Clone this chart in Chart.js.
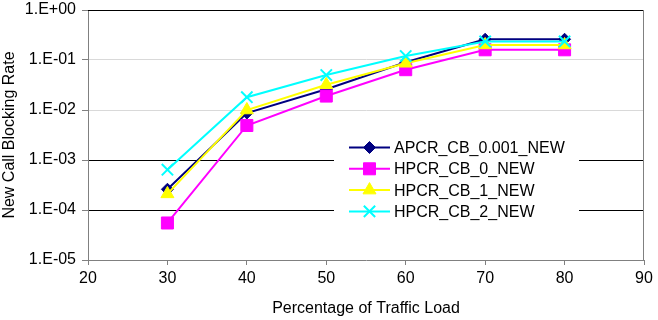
<!DOCTYPE html>
<html>
<head>
<meta charset="utf-8">
<script src="https://cdn.jsdelivr.net/npm/chart.js@4.4.1/dist/chart.umd.min.js"></script>
<style>
  html, body { margin: 0; padding: 0; background: #fff; }
  #wrap { width: 658px; height: 320px; }
</style>
</head>
<body>
<div id="wrap"><canvas id="chart" width="658" height="320"></canvas></div>
<script>
const loads = [30, 40, 50, 60, 70, 80];
const xTicks = [20, 30, 40, 50, 60, 70, 80, 90];
const yTicks = [1e-5, 1e-4, 1e-3, 1e-2, 1e-1, 1];

const apcr001 = [2.6e-4, 8.7e-3, 2.6e-2, 0.090, 0.26, 0.26];
const hpcr0 = [5.5e-5, 4.9e-3, 1.9e-2, 0.064, 0.16, 0.16];
const hpcr1 = [2.1e-4, 1.0e-2, 3.2e-2, 0.086, 0.20, 0.20];
const hpcr2 = [6.4e-4, 1.8e-2, 5.0e-2, 0.12, 0.235, 0.235];

const seriesNames = ['APCR_CB_0.001_NEW', 'HPCR_CB_0_NEW', 'HPCR_CB_1_NEW', 'HPCR_CB_2_NEW'];

const FONT = { family: '"Liberation Sans", Arial, sans-serif', size: 16 };

function pts(vals) {
  return vals.map((v, i) => ({ x: loads[i], y: v }));
}

function sciLabel(v) {
  let e = Math.round(Math.log10(v));
  return '1.E' + (e < 0 ? '-' : '+') + String(Math.abs(e)).padStart(2, '0');
}

const styles = [
  { color: '#000080', pointStyle: 'rectRot', radius: 6, bw: 1 },
  { color: '#ff00ff', pointStyle: 'rect', radius: 8.5, bw: 1 },
  { color: '#ffff00', pointStyle: 'triangle', radius: 7.5, bw: 1 },
  { color: '#00ffff', pointStyle: 'crossRot', radius: 8, bw: 2 }
];
const allData = [apcr001, hpcr0, hpcr1, hpcr2];

const datasets = allData.map((vals, i) => ({
  label: seriesNames[i],
  data: pts(vals),
  borderColor: styles[i].color,
  backgroundColor: styles[i].color,
  borderWidth: 2,
  pointStyle: styles[i].pointStyle,
  pointRadius: styles[i].radius,
  pointBorderWidth: styles[i].bw,
  pointBorderColor: styles[i].color,
  pointBackgroundColor: styles[i].color,
  tension: 0,
  order: allData.length - i
}));

// frame + legend box drawn inside the plot
const frameAndLegend = {
  id: 'frameAndLegend',
  afterDraw(chart) {
    const ctx = chart.ctx;
    const a = chart.chartArea;
    ctx.save();
    // top and right border
    ctx.lineWidth = 1;
    ctx.strokeStyle = '#000';
    ctx.beginPath();
    ctx.moveTo(a.left, a.top + 0.5);
    ctx.lineTo(a.right, a.top + 0.5);
    ctx.stroke();
    ctx.strokeStyle = '#808080';
    ctx.beginPath();
    ctx.moveTo(a.right - 0.5, a.top);
    ctx.lineTo(a.right - 0.5, a.bottom);
    ctx.stroke();

    // legend
    const lx = a.left + 246, ly = a.top + 126, lw = 245, lh = 88;
    ctx.fillStyle = '#fff';
    ctx.fillRect(lx, ly, lw, lh);
    ctx.font = FONT.size + 'px ' + FONT.family;
    ctx.textBaseline = 'middle';
    ctx.textAlign = 'left';
    chart.data.datasets.forEach((ds, i) => {
      const y = ly + 11.5 + i * 21.3;
      ctx.strokeStyle = ds.borderColor;
      ctx.lineWidth = 2;
      ctx.beginPath();
      ctx.moveTo(lx + 15, y);
      ctx.lineTo(lx + 56, y);
      ctx.stroke();
      ctx.fillStyle = ds.pointBackgroundColor;
      ctx.strokeStyle = ds.pointBorderColor;
      ctx.lineWidth = ds.pointBorderWidth;
      Chart.helpers.drawPoint(ctx, { pointStyle: ds.pointStyle, radius: ds.pointRadius, rotation: 0, borderWidth: ds.pointBorderWidth }, lx + 35.5, y);
      ctx.fillStyle = '#000';
      ctx.fillText(ds.label, lx + 60, y + 1);
    });
    ctx.restore();
  }
};

new Chart(document.getElementById('chart'), {
  type: 'line',
  data: { datasets: datasets },
  options: {
    responsive: false,
    animation: false,
    layout: { padding: { top: 9, right: 14, bottom: 0, left: 0 } },
    plugins: {
      legend: { display: false },
      tooltip: { enabled: false }
    },
    scales: {
      x: {
        type: 'linear',
        min: 20,
        max: 90,
        afterBuildTicks: s => { s.ticks = xTicks.map(v => ({ value: v })); },
        afterFit: s => { s.height = 60; s.paddingLeft = 0; s.paddingRight = 0; },
        grid: { drawOnChartArea: false, drawTicks: true, tickLength: 5, tickColor: '#808080', color: '#808080' },
        border: { color: '#808080', width: 1 },
        ticks: { color: '#000', font: FONT, padding: 4, maxRotation: 0 },
        title: { display: true, text: 'Percentage of Traffic Load', color: '#000', font: FONT, padding: { top: 0, bottom: 2 } }
      },
      y: {
        type: 'logarithmic',
        min: 1e-5,
        max: 1,
        afterBuildTicks: s => { s.ticks = yTicks.map(v => ({ value: v })); },
        afterFit: s => { s.width = 88; s.paddingTop = 0; s.paddingBottom = 0; },
        grid: {
          drawTicks: true,
          tickLength: 6,
          tickColor: '#808080',
          color: c => {
            let v = c.tick ? c.tick.value : 0;
            if (v >= 1e-2 && v < 0.5) return '#d9d9d9';
            if (v >= 0.5) return '#000';
            if (v <= 1e-5 * 1.5) return 'rgba(0,0,0,0)';
            return '#000';
          }
        },
        border: { color: '#808080', width: 1 },
        ticks: { color: '#000', font: FONT, padding: 6, callback: v => sciLabel(v) },
        title: { display: true, text: 'New Call Blocking Rate', color: '#000', font: FONT, padding: { top: 0, bottom: 0 } }
      }
    }
  },
  plugins: [frameAndLegend]
});
</script>
</body>
</html>
